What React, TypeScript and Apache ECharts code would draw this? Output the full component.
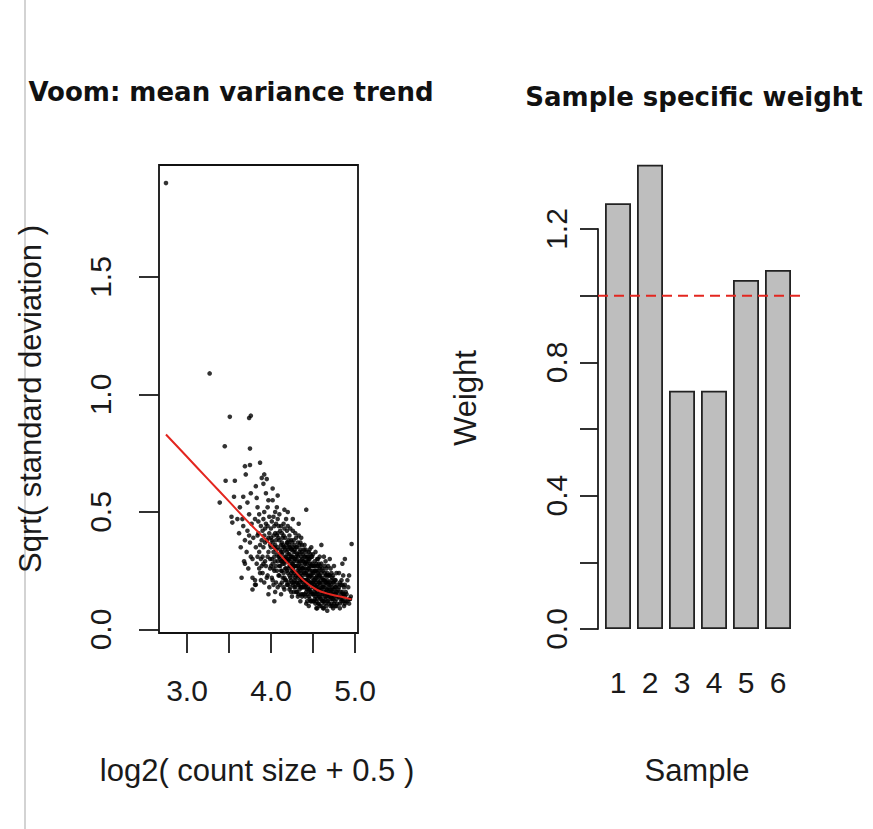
import React, { useEffect, useRef } from "react";
import * as echarts from "echarts";

// ---- Data: voom mean-variance points (log2 count size, sqrt sd) ----
const voomPoints: number[][] = [
  [2.75,1.9],[3.27,1.09],[3.51,0.905],[3.74,0.9],[3.76,0.91],[3.45,0.78],[3.75,0.77],[3.87,0.71],[3.69,0.695],[3.75,0.7],
  [3.7,0.66],[3.46,0.633],[3.57,0.633],[3.39,0.54],[3.56,0.565],[3.67,0.565],[3.53,0.48],[3.54,0.455],[4.42,0.51],[4.96,0.364],
  [4.94,0.13],[3.82,0.19],[3.81,0.21],[3.69,0.28],[3.89,0.645],[3.92,0.66],[3.91,0.62],[4.88,0.3],[4.93,0.23],[4.85,0.28],
  [3.6,0.47],[3.65,0.22],[3.78,0.17],[4.6,0.36],[4.7,0.3],[4.02,0.6],[4.08,0.57],[4.2,0.5],[4.26,0.47],[4.33,0.45],
  [3.62,0.41],[3.64,0.35],[3.66,0.47],[3.68,0.29],[3.69,0.38],[3.63,0.52],[3.67,0.44],
  [3.71,0.33],[3.72,0.42],[3.73,0.26],[3.74,0.49],[3.75,0.37],[3.76,0.31],[3.77,0.45],[3.78,0.22],[3.79,0.39],[3.72,0.54],[3.76,0.58],[3.78,0.3],[3.74,0.4],
  [3.81,0.47],[3.82,0.35],[3.83,0.28],[3.84,0.52],[3.85,0.41],[3.86,0.33],[3.87,0.24],[3.88,0.44],[3.89,0.38],[3.81,0.19],[3.83,0.56],[3.86,0.49],[3.88,0.3],[3.84,0.4],[3.87,0.36],[3.82,0.61],[3.89,0.27],[3.85,0.46],
  [3.9,0.42],[3.91,0.35],[3.92,0.5],[3.93,0.29],[3.94,0.45],[3.95,0.38],[3.96,0.31],[3.97,0.55],[3.98,0.41],[3.99,0.26],[3.91,0.47],[3.93,0.37],[3.95,0.22],[3.96,0.44],[3.97,0.33],[3.98,0.48],[3.92,0.4],[3.94,0.58],[3.99,0.36],[3.9,0.31],[3.96,0.52],[3.98,0.18],[3.93,0.43],[3.95,0.64],[3.97,0.39],
  [4.0,0.43],[4.01,0.3],[4.02,0.37],[4.03,0.48],[4.04,0.25],[4.05,0.41],[4.06,0.34],[4.07,0.52],[4.08,0.29],[4.09,0.39],[4.01,0.46],[4.02,0.21],[4.03,0.33],[4.04,0.44],[4.05,0.36],[4.06,0.27],[4.07,0.4],[4.08,0.47],[4.09,0.23],[4.0,0.35],[4.02,0.55],[4.04,0.31],[4.06,0.45],[4.08,0.35],[4.05,0.16],[4.03,0.4],[4.07,0.32],[4.01,0.38],[4.09,0.44],[4.05,0.5],
  [4.1,0.38],[4.11,0.27],[4.12,0.44],[4.13,0.32],[4.14,0.22],[4.15,0.4],[4.16,0.35],[4.17,0.29],[4.18,0.47],[4.19,0.19],[4.1,0.31],[4.11,0.42],[4.12,0.36],[4.13,0.25],[4.14,0.39],[4.15,0.3],[4.16,0.43],[4.17,0.34],[4.18,0.26],[4.19,0.37],[4.1,0.49],[4.12,0.15],[4.13,0.41],[4.14,0.33],[4.15,0.24],[4.16,0.28],[4.17,0.39],[4.18,0.31],[4.19,0.42],[4.11,0.34],[4.13,0.37],[4.15,0.45],[4.17,0.21],[4.19,0.3],[4.12,0.29],[4.16,0.51],
  [4.2,0.34],[4.21,0.26],[4.22,0.4],[4.23,0.3],[4.24,0.21],[4.25,0.37],[4.26,0.28],[4.27,0.33],[4.28,0.18],[4.29,0.41],[4.2,0.29],[4.21,0.38],[4.22,0.23],[4.23,0.35],[4.24,0.31],[4.25,0.25],[4.26,0.42],[4.27,0.2],[4.28,0.36],[4.29,0.27],[4.2,0.44],[4.21,0.32],[4.22,0.17],[4.23,0.27],[4.24,0.38],[4.25,0.31],[4.26,0.23],[4.27,0.29],[4.28,0.24],[4.29,0.33],[4.21,0.2],[4.23,0.43],[4.25,0.14],[4.27,0.38],[4.29,0.22],[4.22,0.32],[4.24,0.27],[4.26,0.35],[4.28,0.3],[4.2,0.24],
  [4.3,0.31],[4.31,0.24],[4.32,0.37],[4.33,0.19],[4.34,0.28],[4.35,0.34],[4.36,0.22],[4.37,0.3],[4.38,0.15],[4.39,0.26],[4.3,0.2],[4.31,0.35],[4.32,0.27],[4.33,0.32],[4.34,0.17],[4.35,0.25],[4.36,0.39],[4.37,0.21],[4.38,0.29],[4.39,0.34],[4.3,0.39],[4.31,0.16],[4.32,0.22],[4.33,0.26],[4.34,0.33],[4.35,0.12],[4.36,0.27],[4.37,0.36],[4.38,0.23],[4.39,0.19],[4.3,0.27],[4.32,0.31],[4.34,0.23],[4.36,0.18],[4.38,0.32],[4.31,0.29],[4.33,0.4],[4.35,0.29],[4.37,0.14],[4.39,0.24],
  [4.4,0.28],[4.41,0.21],[4.42,0.33],[4.43,0.17],[4.44,0.26],[4.45,0.3],[4.46,0.13],[4.47,0.23],[4.48,0.35],[4.49,0.19],[4.4,0.18],[4.41,0.31],[4.42,0.24],[4.43,0.28],[4.44,0.15],[4.45,0.22],[4.46,0.27],[4.47,0.32],[4.48,0.2],[4.49,0.25],[4.4,0.36],[4.41,0.14],[4.42,0.19],[4.43,0.23],[4.44,0.31],[4.45,0.1],[4.46,0.2],[4.47,0.16],[4.48,0.27],[4.49,0.31],[4.4,0.24],[4.42,0.29],[4.44,0.21],[4.46,0.34],[4.48,0.12],[4.41,0.26],[4.43,0.12],[4.45,0.26],[4.47,0.28],[4.49,0.15],
  [4.5,0.24],[4.51,0.18],[4.52,0.29],[4.53,0.14],[4.54,0.22],[4.55,0.27],[4.56,0.11],[4.57,0.2],[4.58,0.31],[4.59,0.16],[4.5,0.15],[4.51,0.27],[4.52,0.21],[4.53,0.25],[4.54,0.12],[4.55,0.19],[4.56,0.24],[4.57,0.28],[4.58,0.17],[4.59,0.22],[4.5,0.32],[4.51,0.12],[4.52,0.16],[4.53,0.2],[4.54,0.28],[4.55,0.09],[4.56,0.18],[4.57,0.14],[4.58,0.23],[4.59,0.27],[4.5,0.2],[4.52,0.25],[4.54,0.18],[4.56,0.3],[4.58,0.1],[4.53,0.33],[4.55,0.23],[4.57,0.17],
  [4.6,0.2],[4.61,0.15],[4.62,0.25],[4.63,0.12],[4.64,0.19],[4.65,0.23],[4.66,0.1],[4.67,0.17],[4.68,0.27],[4.69,0.14],[4.6,0.13],[4.61,0.22],[4.62,0.18],[4.63,0.21],[4.64,0.11],[4.65,0.16],[4.66,0.2],[4.67,0.24],[4.68,0.15],[4.69,0.19],[4.6,0.28],[4.62,0.09],[4.63,0.16],[4.64,0.24],[4.66,0.14],[4.67,0.12],[4.68,0.2],[4.69,0.23],[4.61,0.18],[4.65,0.29],[4.67,0.08],[4.63,0.31],
  [4.7,0.17],[4.71,0.13],[4.72,0.21],[4.73,0.1],[4.74,0.16],[4.75,0.2],[4.76,0.12],[4.77,0.15],[4.78,0.24],[4.79,0.11],[4.7,0.23],[4.71,0.19],[4.72,0.14],[4.73,0.18],[4.74,0.09],[4.75,0.14],[4.76,0.18],[4.77,0.21],[4.78,0.13],[4.79,0.16],[4.71,0.26],[4.73,0.22],[4.75,0.27],[4.77,0.1],[4.72,0.17],[4.74,0.2],
  [4.8,0.14],[4.81,0.18],[4.82,0.11],[4.83,0.16],[4.84,0.21],[4.85,0.13],[4.86,0.15],[4.87,0.1],[4.88,0.19],[4.89,0.12],[4.81,0.24],[4.83,0.13],[4.85,0.19],[4.87,0.15],[4.82,0.09],[4.86,0.23],[4.84,0.12],[4.88,0.14],
  [4.9,0.15],[4.91,0.12],[4.92,0.18],[4.93,0.11],[4.95,0.14],[4.91,0.21],[4.94,0.13],
  [3.86,0.26],[3.88,0.21],[3.9,0.24],[3.92,0.2],[3.94,0.27],[3.96,0.23],[3.99,0.3],[3.91,0.28],[3.97,0.15],[3.84,0.31],
  [4.0,0.27],[4.01,0.22],[4.02,0.28],[4.03,0.19],[4.04,0.35],[4.05,0.29],[4.06,0.2],[4.07,0.25],[4.08,0.18],[4.09,0.31],[4.03,0.26],[4.06,0.38],[4.08,0.41],[4.0,0.39],[4.04,0.12],
  [4.1,0.23],[4.11,0.19],[4.12,0.25],[4.13,0.2],[4.14,0.28],[4.15,0.35],[4.16,0.22],[4.17,0.26],[4.18,0.36],[4.19,0.25],[4.11,0.3],[4.13,0.29],[4.15,0.18],[4.17,0.31],[4.19,0.33],[4.12,0.33],[4.14,0.36],[4.16,0.17],[4.18,0.21],[4.1,0.27],
  [4.2,0.19],[4.21,0.3],[4.22,0.27],[4.23,0.22],[4.24,0.34],[4.25,0.2],[4.26,0.31],[4.27,0.25],[4.28,0.21],[4.29,0.3],[4.21,0.35],[4.22,0.36],[4.23,0.18],[4.24,0.24],[4.25,0.28],[4.26,0.19],[4.27,0.16],[4.28,0.27],[4.29,0.18],[4.2,0.37],[4.22,0.29],[4.24,0.16],[4.26,0.26],[4.28,0.34],[4.25,0.34],
  [4.3,0.23],[4.31,0.2],[4.32,0.19],[4.33,0.23],[4.34,0.2],[4.35,0.21],[4.36,0.24],[4.37,0.26],[4.38,0.2],[4.39,0.29],[4.3,0.35],[4.31,0.32],[4.32,0.25],[4.33,0.29],[4.34,0.26],[4.35,0.18],[4.36,0.31],[4.37,0.18],[4.38,0.26],[4.39,0.21],[4.3,0.16],[4.32,0.14],[4.34,0.36],[4.36,0.15],[4.38,0.18],[4.33,0.15],[4.35,0.37],[4.37,0.33],
  [4.4,0.21],[4.41,0.18],[4.42,0.16],[4.43,0.2],[4.44,0.18],[4.45,0.17],[4.46,0.23],[4.47,0.2],[4.48,0.23],[4.49,0.22],[4.4,0.31],[4.41,0.28],[4.42,0.21],[4.43,0.25],[4.44,0.23],[4.45,0.14],[4.46,0.17],[4.47,0.25],[4.48,0.16],[4.49,0.28],[4.4,0.15],[4.42,0.11],[4.44,0.29],[4.46,0.3],[4.48,0.31],[4.41,0.34],[4.43,0.31],[4.45,0.33],[4.47,0.12],
  [4.5,0.18],[4.51,0.21],[4.52,0.19],[4.53,0.17],[4.54,0.15],[4.55,0.16],[4.56,0.21],[4.57,0.23],[4.58,0.2],[4.59,0.13],[4.5,0.27],[4.51,0.24],[4.52,0.13],[4.53,0.22],[4.54,0.25],[4.55,0.13],[4.56,0.15],[4.57,0.11],[4.58,0.26],[4.59,0.19],[4.5,0.12],[4.52,0.27],[4.54,0.09],[4.56,0.27],[4.58,0.14],[4.51,0.15],[4.53,0.11],[4.55,0.3],[4.57,0.25],
  [4.6,0.17],[4.61,0.12],[4.62,0.21],[4.63,0.18],[4.64,0.14],[4.65,0.2],[4.66,0.17],[4.67,0.21],[4.68,0.12],[4.69,0.16],[4.6,0.24],[4.61,0.26],[4.62,0.15],[4.63,0.09],[4.64,0.21],[4.65,0.13],[4.66,0.23],[4.67,0.15],[4.68,0.18],[4.69,0.11],[4.6,0.1],[4.62,0.12],[4.64,0.27],[4.66,0.26],[4.68,0.23],
  [4.7,0.14],[4.71,0.16],[4.72,0.11],[4.73,0.15],[4.74,0.13],[4.75,0.17],[4.76,0.15],[4.77,0.18],[4.78,0.16],[4.79,0.19],[4.7,0.2],[4.72,0.24],[4.74,0.23],[4.76,0.21],[4.78,0.1],[4.71,0.1],[4.73,0.13],[4.75,0.11],
  [4.8,0.17],[4.81,0.14],[4.82,0.2],[4.83,0.19],[4.84,0.15],[4.85,0.16],[4.86,0.12],[4.87,0.18],[4.88,0.11],[4.89,0.16]
];

// ---- Data: lowess trend ----
const trendX = [2.75, 3.0, 3.25, 3.5, 3.75, 4.0, 4.25, 4.4, 4.55, 4.7, 4.85, 4.96];
const trendY = [0.83, 0.735, 0.64, 0.545, 0.45, 0.36, 0.262, 0.205, 0.168, 0.15, 0.138, 0.128];

// ---- Data: sample weights ----
const samples = ["1", "2", "3", "4", "5", "6"];
const weights = [1.277, 1.393, 0.715, 0.715, 1.047, 1.077];
const referenceWeight = 1;

// ---- Tick labels ----
const voomXLabels = ["3.0", "4.0", "5.0"];
const weightYLabels = ["0.0", "0.4", "0.8", "1.2"];

const SANS = "'Liberation Sans', Arial, sans-serif";
const BOLD = "'DejaVu Sans', sans-serif";
const INK = "#1a1a1a";

export default function App() {
  const ref = useRef<HTMLDivElement>(null);
  useEffect(() => {
    if (!ref.current) return;
    const chart = echarts.init(ref.current, undefined, { renderer: "svg" });
    const tickLabel = { color: INK, fontFamily: SANS, fontSize: 30 };
    const option: any = {
      animation: false,
      backgroundColor: "#fff",
      grid: [
        { left: 159, top: 165, width: 199, height: 468, show: true, borderColor: "#111", borderWidth: 1.8, backgroundColor: "transparent" },
        { left: 187, top: 165, width: 168, height: 468 },
        { left: 159, top: 277, width: 199, height: 352.5 },
        { left: 602, top: 162.3, width: 192, height: 466.7 },
        { left: 598, top: 162.3, width: 202, height: 466.7 },
        { left: 598, top: 229, width: 202, height: 400 },
      ],
      xAxis: [
        { gridIndex: 0, type: "value", min: 2.667, max: 5.036, show: false },
        {
          gridIndex: 1, type: "value", min: 3, max: 5, interval: 0.5,
          axisLine: { show: false },
          axisTick: { show: true, length: 20, lineStyle: { color: INK, width: 1.8 } },
          splitLine: { show: false },
          axisLabel: {
            ...tickLabel, margin: 42, showMinLabel: true, showMaxLabel: true,
            formatter: (v: number) => { const s = v.toFixed(1); return voomXLabels.includes(s) ? s : ""; },
          },
        },
        { gridIndex: 2, type: "value", min: 0, max: 1, show: false },
        {
          gridIndex: 3, type: "category", data: samples,
          axisLine: { show: false }, axisTick: { show: false },
          axisLabel: { ...tickLabel, margin: 38, interval: 0 },
        },
        { gridIndex: 4, type: "value", min: 0, max: 1, show: false },
        { gridIndex: 5, type: "value", min: 0, max: 1, show: false },
      ],
      yAxis: [
        { gridIndex: 0, type: "value", min: -0.015, max: 1.977, show: false },
        { gridIndex: 1, type: "value", min: 0, max: 1, show: false },
        {
          gridIndex: 2, type: "value", min: 0, max: 1.5, interval: 0.5,
          axisLine: { show: false },
          axisTick: { show: true, length: 20, lineStyle: { color: INK, width: 1.8 } },
          splitLine: { show: false },
          axisLabel: { ...tickLabel, rotate: 90, margin: 44, formatter: (v: number) => v.toFixed(1) },
        },
        { gridIndex: 3, type: "value", min: 0, max: 1.4, show: false },
        { gridIndex: 4, type: "value", min: 0, max: 1.4, show: false },
        {
          gridIndex: 5, type: "value", min: 0, max: 1.2, interval: 0.2,
          axisLine: { show: true, lineStyle: { color: INK, width: 1.8 } },
          axisTick: { show: true, length: 18, lineStyle: { color: INK, width: 1.8 } },
          splitLine: { show: false },
          axisLabel: {
            ...tickLabel, rotate: 90, margin: 27, showMinLabel: true, showMaxLabel: true,
            formatter: (v: number) => { const s = v.toFixed(1); return weightYLabels.includes(s) ? s : ""; },
          },
        },
      ],
      series: [
        {
          type: "scatter", xAxisIndex: 0, yAxisIndex: 0, data: voomPoints,
          symbol: "circle", symbolSize: 4.6, itemStyle: { color: "#000" }, silent: true, z: 2,
        },
        {
          type: "line", xAxisIndex: 0, yAxisIndex: 0, smooth: 0.35, showSymbol: false,
          data: trendX.map((x, i) => [x, trendY[i]]),
          lineStyle: { color: "#e3261f", width: 2 }, silent: true, z: 3,
        },
        {
          type: "bar", xAxisIndex: 3, yAxisIndex: 3, data: weights, barWidth: 26,
          itemStyle: { color: "#bebebe", borderColor: "#222", borderWidth: 1.8 }, silent: true,
        },
        {
          type: "line", xAxisIndex: 4, yAxisIndex: 4, showSymbol: false,
          data: [[0, referenceWeight], [1, referenceWeight]],
          lineStyle: { color: "#e3261f", width: 2, type: [10, 6] }, silent: true, z: 4,
        },
      ],
      graphic: [
        { type: "line", shape: { x1: 25, y1: 0, x2: 25, y2: 829 }, style: { stroke: "#c4c4c4", lineWidth: 1.5 }, silent: true },
        {
          type: "text", x: 231, y: 92,
          style: { text: "Voom: mean variance trend", fontFamily: BOLD, fontWeight: "bold", fontSize: 26, fill: "#111", align: "center", verticalAlign: "middle", textAlign: "center", textVerticalAlign: "middle" },
        },
        {
          type: "text", x: 694, y: 97,
          style: { text: "Sample specific weight", fontFamily: BOLD, fontWeight: "bold", fontSize: 26, fill: "#111", align: "center", verticalAlign: "middle", textAlign: "center", textVerticalAlign: "middle" },
        },
        {
          type: "text", x: 257, y: 770,
          style: { text: "log2( count size + 0.5 )", fontFamily: SANS, fontSize: 31, fill: INK, align: "center", verticalAlign: "middle", textAlign: "center", textVerticalAlign: "middle" },
        },
        {
          type: "text", x: 697, y: 770,
          style: { text: "Sample", fontFamily: SANS, fontSize: 31, fill: INK, align: "center", verticalAlign: "middle", textAlign: "center", textVerticalAlign: "middle" },
        },
        {
          type: "text", x: 30, y: 399, rotation: Math.PI / 2,
          style: { text: "Sqrt( standard deviation )", fontFamily: SANS, fontSize: 31, fill: INK, align: "center", verticalAlign: "middle", textAlign: "center", textVerticalAlign: "middle" },
        },
        {
          type: "text", x: 465, y: 398, rotation: Math.PI / 2,
          style: { text: "Weight", fontFamily: SANS, fontSize: 31, fill: INK, align: "center", verticalAlign: "middle", textAlign: "center", textVerticalAlign: "middle" },
        },
      ],
    };
    chart.setOption(option);
    return () => chart.dispose();
  }, []);
  return (
    <div
      ref={ref}
      style={{ position: "fixed", left: 0, top: 0, width: 873, height: 829, background: "#fff" }}
    />
  );
}
